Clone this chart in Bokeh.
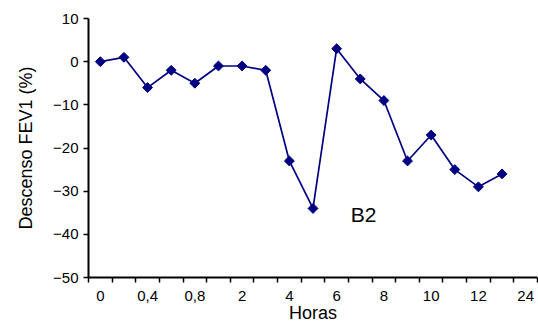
import math
from bokeh.plotting import figure
from bokeh.models import FixedTicker, Range1d, Label
from bokeh.embed import file_html
from bokeh.resources import INLINE

hours = ["0", "0,2", "0,4", "0,6", "0,8", "1", "2", "3", "4", "5", "6", "7", "8", "9", "10", "11", "12", "13", "24"]
fev1_drop = [0, 1, -6, -2, -5, -1, -1, -2, -23, -34, 3, -4, -9, -23, -17, -25, -29, -26]
y_ticks = [-50, -40, -30, -20, -10, 0, 10]

xs = list(range(len(fev1_drop)))

p = figure(width=538, height=326, output_backend="svg", toolbar_location=None,
           x_range=Range1d(-0.5, len(hours) - 0.5), y_range=Range1d(-50, 10),
           min_border_left=88, min_border_right=1, min_border_top=18, min_border_bottom=49)
p.outline_line_color = None
p.grid.visible = False

p.line(xs, fev1_drop, line_color="#000080", line_width=1.7)
p.scatter(xs, fev1_drop, marker="square", angle=math.pi / 4, size=7,
          fill_color="#000080", line_color="#000080", line_width=1)

font = "Liberation Sans"
xax = p.xaxis[0]
label_idx = list(range(0, len(hours), 2))
xax.ticker = FixedTicker(ticks=label_idx, minor_ticks=[i - 0.5 for i in range(len(hours) + 1)])
xax.major_label_overrides = {i: hours[i] for i in label_idx}
xax.major_tick_out = 0
xax.major_tick_in = 0
xax.minor_tick_out = 5
xax.minor_tick_in = 0
xax.minor_tick_line_color = "black"
xax.minor_tick_line_width = 1.5
xax.axis_line_width = 2
xax.axis_line_color = "black"
xax.major_label_text_font = font
xax.major_label_text_font_size = "15px"
xax.major_label_text_color = "black"
xax.major_label_standoff = 8
xax.axis_label = "Horas"
xax.axis_label_text_font = font
xax.axis_label_text_font_size = "18px"
xax.axis_label_text_font_style = "normal"
xax.axis_label_text_color = "black"
xax.axis_label_standoff = -1

yax = p.yaxis[0]
yax.ticker = FixedTicker(ticks=y_ticks, minor_ticks=[])
yax.major_label_overrides = {t: (str(t).replace("-", "\u2212")) for t in y_ticks}
yax.major_tick_out = 5
yax.major_tick_in = 0
yax.major_tick_line_width = 1.5
yax.major_tick_line_color = "black"
yax.axis_line_width = 2
yax.axis_line_color = "black"
yax.major_label_text_font = font
yax.major_label_text_font_size = "15px"
yax.major_label_text_color = "black"
yax.major_label_standoff = 5
yax.axis_label = "Descenso FEV1 (%)"
yax.axis_label_text_font = font
yax.axis_label_text_font_size = "18px"
yax.axis_label_text_font_style = "normal"
yax.axis_label_text_color = "black"
yax.axis_label_standoff = 14

p.add_layout(Label(x=10.6, y=-35.5, text="B2", text_font=font, text_font_size="21px",
                   text_baseline="middle", text_align="left", text_color="black"))

open("out.html", "w").write(file_html(p, INLINE))
